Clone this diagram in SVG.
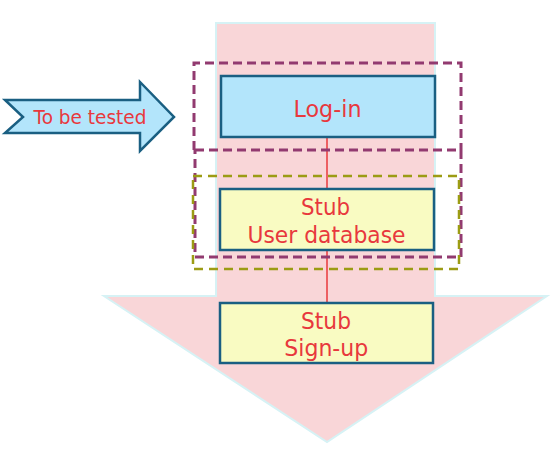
<svg xmlns="http://www.w3.org/2000/svg" width="556" height="452" viewBox="0 0 556 452">
<style>
.lbl{font-family:"DejaVu Sans","Open Sans",sans-serif;fill:#e8383d;text-anchor:middle}
.box{stroke:#1a5f82;stroke-width:2.5}
.pur{fill:none;stroke:#923a70;stroke-width:3;stroke-dasharray:9,5}
.olv{fill:none;stroke:#9c9c14;stroke-width:2.5;stroke-dasharray:9,6}
</style>
<rect width="556" height="452" fill="#fff"/>
<g id="flow-arrow">
<polygon points="216,23 435,23 435,296 547,296 327,442 104,296 216,296" fill="#f9d6d8" stroke="#d6f2f5" stroke-width="2"/>
</g>
<g id="to-be-tested">
<polygon points="5,100 140,100 140,82 174,117 140,151 140,133 5,133 23,117" fill="#b3e5fb" stroke="#1a5f82" stroke-width="2.5" stroke-linejoin="miter"/>
<text class="lbl" x="90" y="124" font-size="19" textLength="113" lengthAdjust="spacingAndGlyphs">To be tested</text>
</g>
<g id="connectors">
<line x1="327" y1="137" x2="327" y2="303" stroke="#e8383d" stroke-width="1.5"/>
</g>
<g id="login">
<rect class="box" x="221" y="76" width="214" height="61" fill="#b3e5fb"/>
<text class="lbl" x="327.5" y="116.5" font-size="23.5" textLength="68" lengthAdjust="spacingAndGlyphs">Log-in</text>
</g>
<g id="stub-user-db">
<rect class="box" x="220" y="189" width="214" height="61" fill="#f9fbc2"/>
<text class="lbl" x="325.5" y="214.5" font-size="23.5" textLength="49" lengthAdjust="spacingAndGlyphs">Stub</text>
<text class="lbl" x="326.5" y="242.5" font-size="23.5" textLength="158" lengthAdjust="spacingAndGlyphs">User database</text>
</g>
<g id="stub-signup">
<rect class="box" x="220" y="303" width="213" height="60" fill="#f9fbc2"/>
<text class="lbl" x="326" y="328.5" font-size="23.5" textLength="50" lengthAdjust="spacingAndGlyphs">Stub</text>
<text class="lbl" x="326.3" y="356" font-size="23.5" textLength="84" lengthAdjust="spacingAndGlyphs">Sign-up</text>
</g>
<g id="scope-login">
<path class="pur" d="M194,150 V63 H461 V150"/>
</g>
<g id="scope-login-db">
<rect class="pur" x="195" y="150" width="266" height="107"/>
</g>
<g id="scope-db">
<rect class="olv" x="193" y="176" width="266" height="93"/>
</g>
</svg>
